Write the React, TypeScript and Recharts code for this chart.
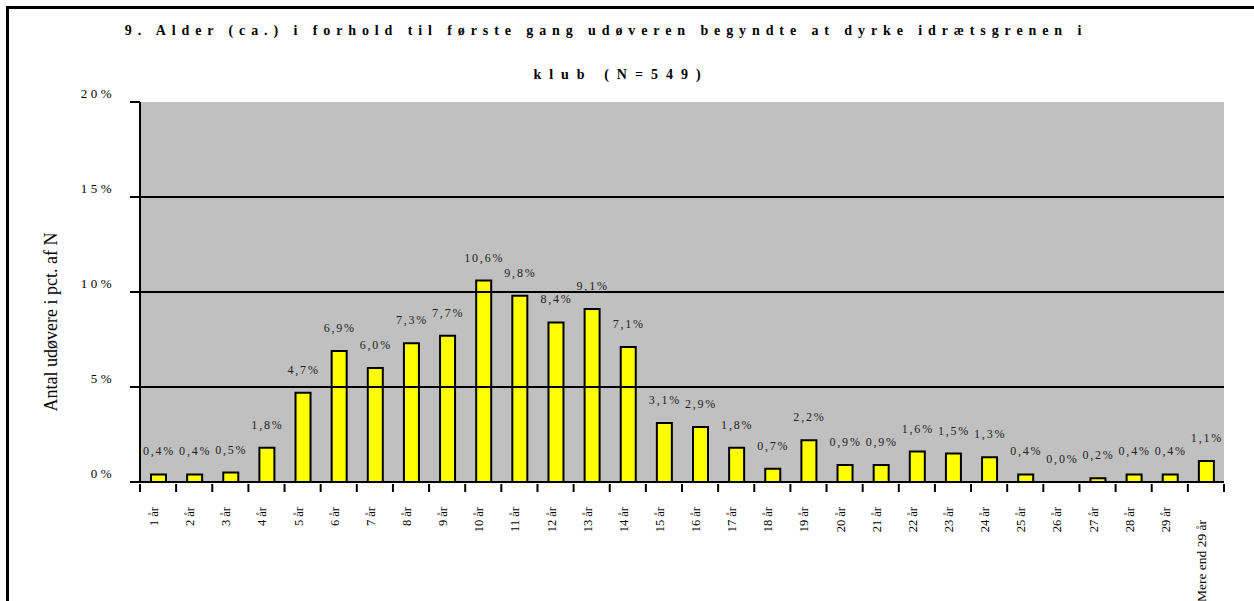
import { ComposedChart, Bar, Line, XAxis, YAxis, CartesianGrid, ReferenceLine } from "recharts";

const categories = [
  "1 år", "2 år", "3 år", "4 år", "5 år", "6 år", "7 år", "8 år", "9 år", "10 år",
  "11 år", "12 år", "13 år", "14 år", "15 år", "16 år", "17 år", "18 år", "19 år", "20 år",
  "21 år", "22 år", "23 år", "24 år", "25 år", "26 år", "27 år", "28 år", "29 år", "Mere end 29 år",
];
const shares = [
  0.4, 0.4, 0.5, 1.8, 4.7, 6.9, 6.0, 7.3, 7.7, 10.6,
  9.8, 8.4, 9.1, 7.1, 3.1, 2.9, 1.8, 0.7, 2.2, 0.9,
  0.9, 1.6, 1.5, 1.3, 0.4, 0.0, 0.2, 0.4, 0.4, 1.1,
];
const yTicks = [0, 5, 10, 15, 20];
const gridValues = [5, 10, 15];

const data = categories.map((c, i) => ({ age: c, share: shares[i] }));

const W = 1254;
const H = 601;
const M = { top: 102, right: 30, bottom: 0, left: 60 };
const Y_AXIS_W = 80;
const BAND = (W - M.left - Y_AXIS_W - M.right) / categories.length;
const SERIF = "'Liberation Serif', 'Times New Roman', serif";

const pct = (v: number) => v.toFixed(1).replace(".", ",") + "%";

// ticks between categories + rotated labels, like the Excel original
function XTick(props: any) {
  const { x, y, payload, index } = props;
  const half = BAND / 2;
  const last = index === categories.length - 1;
  return (
    <g>
      {index === 0 && <line x1={x - half} x2={x - half} y1={y} y2={y + 8} stroke="#000" strokeWidth={2} />}
      <line x1={x + half} x2={x + half} y1={y} y2={y + 8} stroke="#000" strokeWidth={2} />
      <text
        x={0}
        y={0}
        transform={`translate(${x - 4},${y + (last ? 36 : 23)}) rotate(-90)`}
        textAnchor="end"
        dominantBaseline="central"
        fontFamily={SERIF}
        fontSize={last ? 13.5 : 12.5}
        fill="#000"
      >
        {payload.value}
      </text>
    </g>
  );
}

function YTick(props: any) {
  const { x, y, payload } = props;
  return (
    <text x={x + 3} y={y - 4} textAnchor="end" fontFamily={SERIF} fontSize={13} letterSpacing={3.5} fill="#000">
      {payload.value + "%"}
    </text>
  );
}

function PointLabel(props: any) {
  const { x, y, value } = props;
  return (
    <text
      x={x + 1}
      y={y - 19}
      textAnchor="middle"
      fontFamily={SERIF}
      fontSize={12}
      letterSpacing={1.8}
      fill="#222"
    >
      {pct(value)}
    </text>
  );
}

export default function App() {
  return (
    <div style={{ position: "absolute", left: 0, top: 0, width: W, height: H, overflow: "hidden", background: "#fff" }}>
      <svg width={W} height={H} style={{ position: "absolute", left: 0, top: 0 }}>
        <path d={`M7.5 ${H} V7.5 H${W}`} fill="none" stroke="#000" strokeWidth={3} />
      </svg>
      <div
        style={{
          position: "absolute",
          left: 0,
          width: 1212,
          top: 9,
          textAlign: "center",
          fontFamily: SERIF,
          fontWeight: "bold",
          fontSize: 14,
          letterSpacing: 5.9,
          lineHeight: "44px",
        }}
      >
        <div>9. Alder (ca.) i forhold til første gang udøveren begyndte at dyrke idrætsgrenen i</div>
        <div style={{ letterSpacing: 8, paddingLeft: 30 }}>klub (N=549)</div>
      </div>
      <div
        style={{
          position: "absolute",
          left: 51,
          top: 322,
          transform: "translate(-50%, -50%) rotate(-90deg)",
          whiteSpace: "nowrap",
          fontFamily: SERIF,
          fontSize: 18,
        }}
      >
        Antal udøvere i pct. af N
      </div>
      <div style={{ position: "absolute", left: 0, top: 0 }}>
        <ComposedChart width={W} height={H} data={data} margin={M} barSize={15}>
          <CartesianGrid vertical={false} horizontal={false} fill="#C0C0C0" fillOpacity={1} yAxisId="left" xAxisId="bottom" />
          {gridValues.map((v) => (
            <ReferenceLine key={v} y={v} yAxisId="left" xAxisId="bottom" stroke="#000" strokeWidth={2} />
          ))}
          <XAxis
            dataKey="age"
            xAxisId="bottom"
            interval={0}
            height={119}
            tickSize={0}
            tickLine={false}
            axisLine={{ stroke: "#000", strokeWidth: 2 }}
            tick={<XTick />}
          />
          <XAxis
            dataKey="age"
            xAxisId="top"
            orientation="top"
            height={0}
            tick={false}
            tickLine={false}
            axisLine={{ stroke: "#808080", strokeWidth: 3 }}
          />
          <YAxis
            yAxisId="left"
            domain={[0, 20]}
            ticks={yTicks}
            width={Y_AXIS_W}
            tickSize={10}
            tickMargin={18}
            tickLine={{ stroke: "#000", strokeWidth: 2 }}
            axisLine={{ stroke: "#000", strokeWidth: 2 }}
            tick={<YTick />}
          />
          <YAxis
            yAxisId="right"
            orientation="right"
            domain={[0, 20]}
            width={0}
            tick={false}
            tickLine={false}
            axisLine={{ stroke: "#808080", strokeWidth: 3 }}
          />
          <Bar
            dataKey="share"
            xAxisId="bottom"
            yAxisId="left"
            fill="#FFFF00"
            stroke="#000"
            strokeWidth={2}
            isAnimationActive={false}
          />
          {/* invisible line carries the value labels, so the 0,0% bar also gets one */}
          <Line
            dataKey="share"
            xAxisId="bottom"
            yAxisId="left"
            stroke="none"
            dot={false}
            activeDot={false}
            label={<PointLabel />}
            isAnimationActive={false}
          />
        </ComposedChart>
      </div>
    </div>
  );
}
